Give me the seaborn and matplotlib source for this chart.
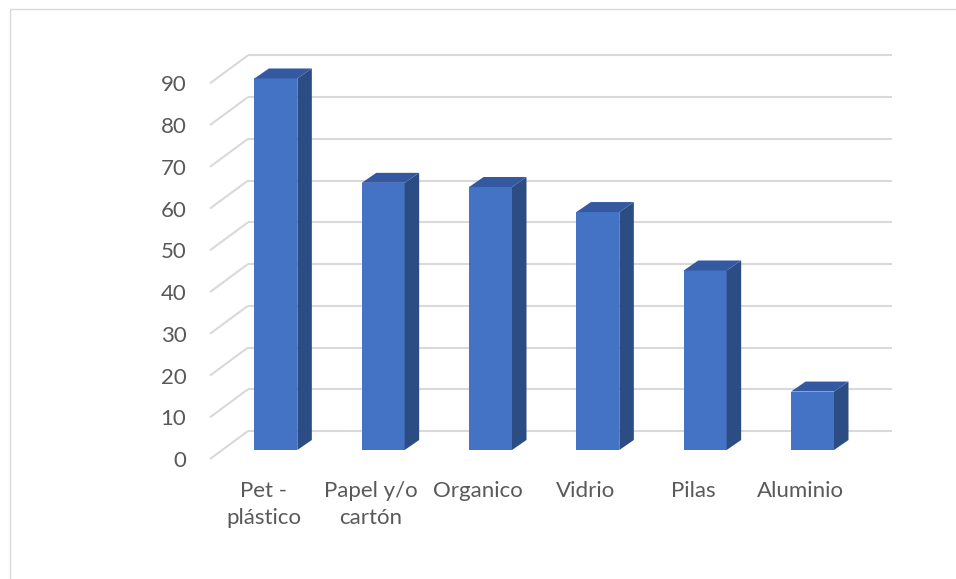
import matplotlib
matplotlib.use("Agg")
import matplotlib.pyplot as plt
from matplotlib.patches import Polygon, Rectangle
import seaborn as sns
import pandas as pd

categories = ["Pet - plástico", "Papel y/o cartón", "Organico", "Vidrio", "Pilas", "Aluminio"]
tick_labels = ["Pet -\nplástico", "Papel y/o\ncartón", "Organico", "Vidrio", "Pilas", "Aluminio"]
values = [89, 64, 63, 57, 43, 14]
y_ticks = [0, 10, 20, 30, 40, 50, 60, 70, 80, 90]

sns.set_style("white")
plt.rcParams['font.family'] = ['Lato', 'DejaVu Sans']

W, H, DPI = 956, 579, 100
fig = plt.figure(figsize=(W / DPI, H / DPI), dpi=DPI)

# front plane of the 3D box (pixels)
left_px, right_px, bottom_px, top_px = 210, 854, 459, 83.3
ax = fig.add_axes([left_px / W, 1 - bottom_px / H, (right_px - left_px) / W, (bottom_px - top_px) / H])

df = pd.DataFrame({"cat": categories, "val": values})
sns.barplot(data=df, x="cat", y="val", width=0.40, color="#4472C4", saturation=1,
            ax=ax, zorder=3)
ax.set_xlim(-0.5, 5.5)
ax.set_ylim(0, 90)

px_x = (right_px - left_px) / 6.0
px_y = (bottom_px - top_px) / 90.0

# depth offsets (pixels -> data units)
wall_dx, wall_dy = 38 / px_x, 28 / px_y
face_dx, face_dy = 12.2 / px_x, 9 / px_y
bar_dx, bar_dy = 14.5 / px_x, 10 / px_y

grid_c = "#D9D9D9"
x0, x1 = ax.get_xlim()
for v in y_ticks:
    ax.plot([x0 + wall_dx, x1 + wall_dx], [v + wall_dy, v + wall_dy], color=grid_c, lw=1.5,
            clip_on=False, zorder=1, solid_capstyle='butt')
    ax.plot([x0, x0 + wall_dx], [v, v + wall_dy], color=grid_c, lw=1.5,
            clip_on=False, zorder=1, solid_capstyle='butt')

side_c = "#2C4C84"
top_c = "#3459A0"
for p in list(ax.patches):
    bx, bw, bh = p.get_x(), p.get_width(), p.get_height()
    fx = bx + face_dx
    fy = face_dy
    p.set_x(fx)
    p.set_y(fy)
    p.set_clip_on(False)
    p.set_edgecolor("none")
    side = Polygon([(fx + bw, fy), (fx + bw + bar_dx, fy + bar_dy),
                    (fx + bw + bar_dx, fy + bh + bar_dy), (fx + bw, fy + bh)],
                   closed=True, facecolor=side_c, edgecolor="none", clip_on=False, zorder=3)
    top = Polygon([(fx, fy + bh), (fx + bw, fy + bh),
                   (fx + bw + bar_dx, fy + bh + bar_dy), (fx + bar_dx, fy + bh + bar_dy)],
                  closed=True, facecolor=top_c, edgecolor="none", clip_on=False, zorder=3)
    ax.add_patch(side)
    ax.add_patch(top)

ax.set_yticks(y_ticks)
ax.set_yticklabels([str(t) for t in y_ticks])
ax.set_xticks(range(len(categories)))
ax.set_xticklabels(tick_labels, linespacing=1.42)
ax.tick_params(axis='both', length=0, labelsize=16, labelcolor="#595959")
ax.tick_params(axis='y', pad=17)
ax.tick_params(axis='x', pad=16)
ax.set_xlabel("")
ax.set_ylabel("")
for s in ax.spines.values():
    s.set_visible(False)
ax.grid(False)
ax.patch.set_alpha(0)

# chart border
fig.patches.append(Rectangle((10 / W, -0.05), 1.2, 1 - 9 / H + 0.05, transform=fig.transFigure,
                             facecolor="none", edgecolor="#D9D9D9", lw=1.0))

fig.savefig("out.png", dpi=DPI)
